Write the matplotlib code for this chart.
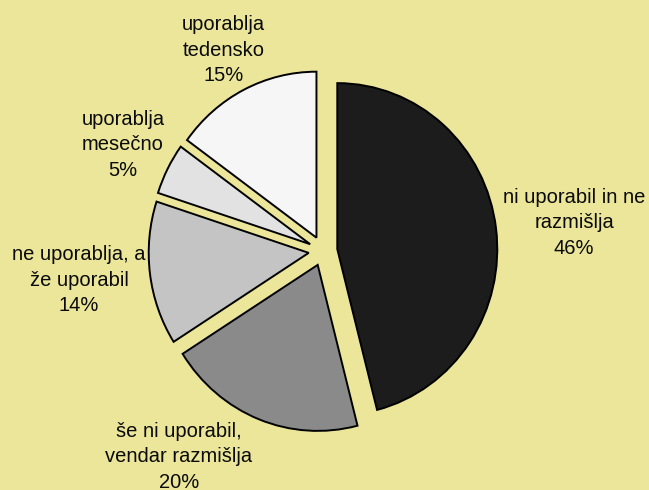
import matplotlib
matplotlib.use('Agg')
import matplotlib.pyplot as plt

# slice data (clockwise from 12 o'clock)
categories = ['ni uporabil in ne\nrazmišlja',
              'še ni uporabil,\nvendar razmišlja',
              'ne uporablja, a\nže uporabil',
              'uporablja\nmesečno',
              'uporablja\ntedensko']
shares = [46, 20, 14, 5, 15]
slice_colors = ['#1c1c1c', '#8a8a8a', '#c4c4c4', '#e2e2e2', '#f6f6f6']

# label centres (data units, pie radius = 1)
label_pos = [(1.57, 0.17), (-0.90, -1.24), (-1.525, -0.175), (-1.25, 0.64), (-0.62, 1.21)]

BG = '#ebe69a'

fig = plt.figure(figsize=(6.49, 4.90), dpi=100)
fig.patch.set_facecolor(BG)
ax = fig.add_axes([0, 0, 1, 1])
ax.set_facecolor(BG)

wedges, _ = ax.pie(
    shares,
    colors=slice_colors,
    startangle=90,
    counterclock=False,
    explode=[0.09] * len(shares),
    radius=1.0,
    wedgeprops=dict(edgecolor='black', linewidth=1.4),
)

for cat, val, (x, y) in zip(categories, shares, label_pos):
    ax.text(x, y, f'{cat}\n{val}%', ha='center', va='center',
            fontsize=14.5, family='Liberation Sans', color='#0a0a0a',
            linespacing=1.45)

# slightly wider than tall, like the original
ax.set_aspect('auto')
ax.set_xlim(-323 / 160, (649 - 323) / 160)
ax.set_ylim(-239 / 166, (490 - 239) / 166)
ax.axis('off')

fig.savefig('out.png', dpi=100, facecolor=BG)
